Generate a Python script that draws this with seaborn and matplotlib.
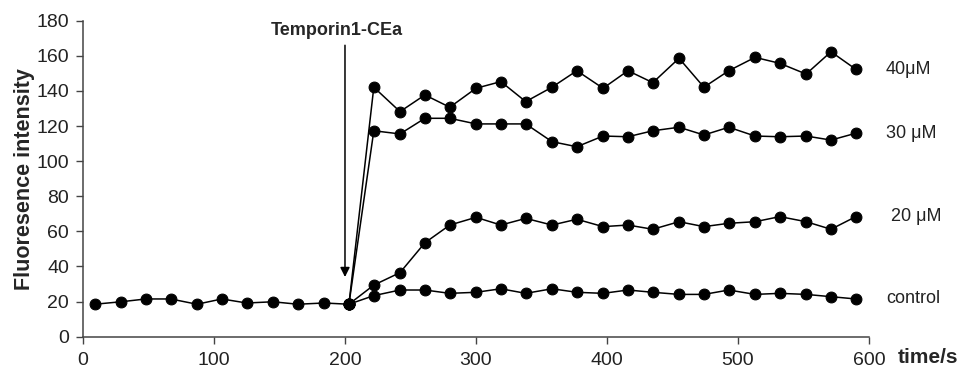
import pandas as pd
import matplotlib
matplotlib.use('Agg')
import matplotlib.pyplot as plt
import seaborn as sns

# dati
tempo_base = [9, 29, 48, 67, 87, 106, 125, 145, 164, 184, 203]
fluo_base = [18.5, 19.9, 21.5, 21.5, 18.5, 21.5, 19.2, 19.9, 18.5, 19.2, 18.5]

tempo_dopo = [203, 222, 242, 261, 280, 300, 319, 338, 358, 377, 397,
              416, 435, 455, 474, 493, 513, 532, 552, 571, 590]
fluo_40 = [18.5, 142.1, 128.2, 137.7, 130.7, 141.5, 145.3, 133.9, 142.1, 151.5, 141.5,
           151.5, 144.7, 158.6, 142.1, 151.5, 159.1, 155.7, 149.6, 162.3, 152.3]
fluo_30 = [18.5, 117.3, 115.5, 124.4, 124.4, 121.2, 121.2, 121.2, 111.1, 108.2, 114.3,
           113.9, 117.3, 119.3, 114.9, 119.3, 114.3, 113.9, 114.3, 112.0, 115.9]
fluo_20 = [18.5, 29.4, 36.5, 53.5, 63.6, 68.0, 63.6, 67.4, 63.6, 66.9, 62.7,
           63.6, 61.2, 65.5, 62.7, 64.6, 65.5, 68.4, 65.5, 61.2, 68.4]
fluo_ctrl = [18.5, 23.4, 26.6, 26.6, 24.7, 25.3, 27.3, 24.7, 27.3, 25.3, 24.7,
             26.6, 25.3, 24.1, 24.1, 26.6, 24.1, 24.7, 24.1, 22.8, 21.5]

etichette = ['40μM', '30 μM', ' 20 μM', 'control']
serie = [fluo_40, fluo_30, fluo_20, fluo_ctrl]

sns.set_style('ticks')
plt.rcParams['font.family'] = ['Liberation Sans', 'DejaVu Sans']

fig = plt.figure(figsize=(9.65, 3.74), dpi=100)
ax = fig.add_axes([0.086, 0.0997, 0.8145, 0.845])

stile = dict(color='black', marker='o', markersize=7.8, linewidth=1.1,
             markeredgecolor='black')

# tratto iniziale comune
sns.lineplot(x=tempo_base, y=fluo_base, ax=ax, **stile)

# una linea per ogni concentrazione dopo l'aggiunta
for valori, nome in zip(serie, etichette):
    sns.lineplot(x=tempo_dopo, y=valori, ax=ax, **stile)
    ax.text(613, valori[-1], nome, fontsize=13, va='center', ha='left', color='#222222')

ax.set_xlim(0, 600)
ax.set_ylim(0, 180)
ax.set_xticks([0, 100, 200, 300, 400, 500, 600])
ax.set_yticks(range(0, 181, 20))
ax.tick_params(labelsize=14, length=5, width=1, colors='#444444', labelcolor='#222222')
ax.tick_params(axis='y', pad=5)
ax.tick_params(axis='x', pad=6)
for lato in ['left', 'bottom']:
    ax.spines[lato].set_color('#444444')
    ax.spines[lato].set_linewidth(1.1)
sns.despine(ax=ax)

ax.set_ylabel('Fluoresence intensity', fontsize=15.5, fontweight='bold', labelpad=1)
ax.set_xlabel('time/s', fontsize=15, fontweight='bold', ha='left', va='center')
ax.xaxis.set_label_coords(1.037, -0.067)

# freccia per l'aggiunta del peptide
ax.annotate('', xy=(200, 34), xytext=(200, 166),
            arrowprops=dict(arrowstyle='-|>', color='black', lw=1.1,
                            mutation_scale=14, shrinkA=0, shrinkB=0))
ax.text(194, 174.3, 'Temporin1-CEa', fontsize=13, fontweight='bold',
        ha='center', va='center')

plt.savefig('out.png', dpi=100)
